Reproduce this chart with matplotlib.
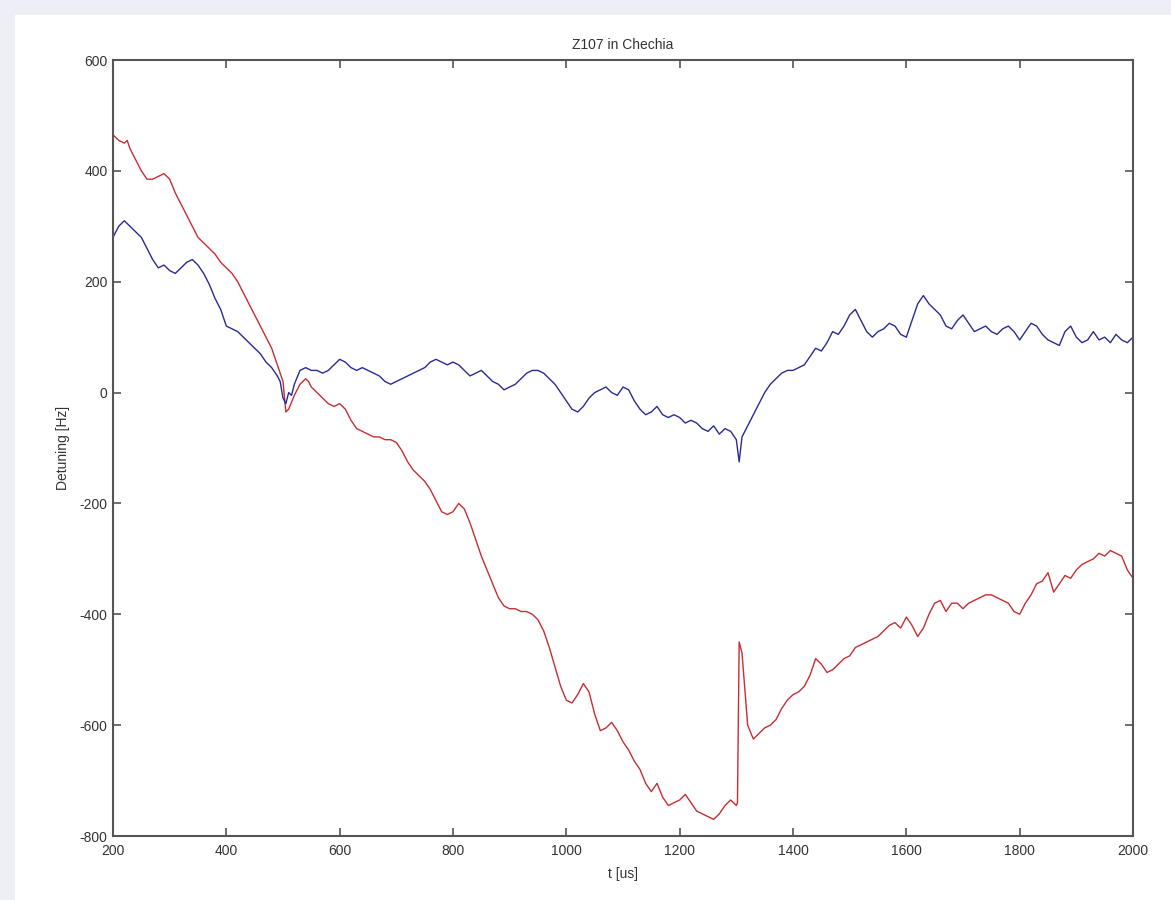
import matplotlib
matplotlib.use("Agg")
import matplotlib.pyplot as plt
from matplotlib.patches import Rectangle

# ---- data ----
blue_t = [200, 210, 220, 230, 240, 250, 260, 270, 280, 290, 300, 310, 320, 330, 340, 350, 360, 370, 380, 390,
          400, 410, 420, 430, 440, 450, 460, 470, 480, 490, 495, 500, 505, 510, 515, 520, 530, 540, 550, 560,
          570, 580, 590, 600, 610, 620, 630, 640, 650, 660, 670, 680, 690, 700, 710, 720, 730, 740, 750, 760,
          770, 780, 790, 800, 810, 820, 830, 840, 850, 860, 870, 880, 890, 900, 910, 920, 930, 940, 950, 960,
          970, 980, 990, 1000, 1010, 1020, 1030, 1040, 1050, 1060, 1070, 1080, 1090, 1100, 1110, 1120, 1130,
          1140, 1150, 1160, 1170, 1180, 1190, 1200, 1210, 1220, 1230, 1240, 1250, 1260, 1270, 1280, 1290, 1300,
          1305, 1310, 1320, 1330, 1340, 1350, 1360, 1370, 1380, 1390, 1400, 1410, 1420, 1430, 1440, 1450, 1460,
          1470, 1480, 1490, 1500, 1510, 1520, 1530, 1540, 1550, 1560, 1570, 1580, 1590, 1600, 1610, 1620, 1630,
          1640, 1650, 1660, 1670, 1680, 1690, 1700, 1710, 1720, 1730, 1740, 1750, 1760, 1770, 1780, 1790, 1800,
          1810, 1820, 1830, 1840, 1850, 1860, 1870, 1880, 1890, 1900, 1910, 1920, 1930, 1940, 1950, 1960, 1970,
          1980, 1990, 2000]
blue_v = [280, 300, 310, 300, 290, 280, 260, 240, 225, 230, 220, 215, 225, 235, 240, 230, 215, 195, 170, 150,
          120, 115, 110, 100, 90, 80, 70, 55, 45, 30, 20, -10, -20, 0, -5, 15, 40, 45, 40, 40,
          35, 40, 50, 60, 55, 45, 40, 45, 40, 35, 30, 20, 15, 20, 25, 30, 35, 40, 45, 55,
          60, 55, 50, 55, 50, 40, 30, 35, 40, 30, 20, 15, 5, 10, 15, 25, 35, 40, 40, 35,
          25, 15, 0, -15, -30, -35, -25, -10, 0, 5, 10, 0, -5, 10, 5, -15, -30,
          -40, -35, -25, -40, -45, -40, -45, -55, -50, -55, -65, -70, -60, -75, -65, -70, -85,
          -125, -80, -60, -40, -20, 0, 15, 25, 35, 40, 40, 45, 50, 65, 80, 75, 90,
          110, 105, 120, 140, 150, 130, 110, 100, 110, 115, 125, 120, 105, 100, 130, 160, 175,
          160, 150, 140, 120, 115, 130, 140, 125, 110, 115, 120, 110, 105, 115, 120, 110, 95,
          110, 125, 120, 105, 95, 90, 85, 110, 120, 100, 90, 95, 110, 95, 100, 90, 105,
          95, 90, 100]

red_t = [200, 210, 220, 225, 230, 240, 250, 260, 270, 280, 290, 300, 310, 320, 330, 340, 350, 360, 370, 380,
         390, 400, 410, 420, 430, 440, 450, 460, 470, 480, 490, 500, 505, 510, 520, 530, 540, 545, 550, 560,
         570, 580, 590, 600, 610, 620, 630, 640, 650, 660, 670, 680, 690, 700, 710, 720, 730, 740, 750, 760,
         770, 780, 790, 800, 810, 820, 830, 840, 850, 860, 870, 880, 890, 900, 910, 920, 930, 940, 950, 960,
         970, 980, 990, 1000, 1010, 1020, 1030, 1040, 1050, 1060, 1070, 1080, 1090, 1100, 1110, 1120, 1130,
         1140, 1150, 1160, 1170, 1180, 1190, 1200, 1210, 1220, 1230, 1240, 1250, 1260, 1270, 1280, 1290, 1300,
         1302, 1305, 1310, 1320, 1330, 1340, 1350, 1360, 1370, 1380, 1390, 1400, 1410, 1420, 1430, 1440, 1450,
         1460, 1470, 1480, 1490, 1500, 1510, 1520, 1530, 1540, 1550, 1560, 1570, 1580, 1590, 1600, 1610, 1620,
         1630, 1640, 1650, 1660, 1670, 1680, 1690, 1700, 1710, 1720, 1730, 1740, 1750, 1760, 1770, 1780, 1790,
         1800, 1810, 1820, 1830, 1840, 1850, 1860, 1870, 1880, 1890, 1900, 1910, 1920, 1930, 1940, 1950, 1960,
         1970, 1980, 1990, 2000]
red_v = [465, 455, 450, 455, 440, 420, 400, 385, 385, 390, 395, 385, 360, 340, 320, 300, 280, 270, 260, 250,
         235, 225, 215, 200, 180, 160, 140, 120, 100, 80, 50, 20, -35, -30, -5, 15, 25, 20, 10, 0,
         -10, -20, -25, -20, -30, -50, -65, -70, -75, -80, -80, -85, -85, -90, -105, -125, -140, -150, -160, -175,
         -195, -215, -220, -215, -200, -210, -235, -265, -295, -320, -345, -370, -385, -390, -390, -395, -395, -400, -410, -430,
         -460, -495, -530, -555, -560, -545, -525, -540, -580, -610, -605, -595, -610, -630, -645, -665, -680,
         -705, -720, -705, -730, -745, -740, -735, -725, -740, -755, -760, -765, -770, -760, -745, -735, -745,
         -740, -450, -470, -600, -625, -615, -605, -600, -590, -570, -555, -545, -540, -530, -510, -480, -490,
         -505, -500, -490, -480, -475, -460, -455, -450, -445, -440, -430, -420, -415, -425, -405, -420, -440,
         -425, -400, -380, -375, -395, -380, -380, -390, -380, -375, -370, -365, -365, -370, -375, -380, -395,
         -400, -380, -365, -345, -340, -325, -360, -345, -330, -335, -320, -310, -305, -300, -290, -295, -285,
         -290, -295, -320, -335]

x_ticks = [200, 400, 600, 800, 1000, 1200, 1400, 1600, 1800, 2000]
y_ticks = [-800, -600, -400, -200, 0, 200, 400, 600]

plt.rcParams['font.family'] = ['Liberation Sans', 'DejaVu Sans']
plt.rcParams['axes.unicode_minus'] = False

W, H = 1171, 900
fig = plt.figure(figsize=(W / 100, H / 100), dpi=100, facecolor='#eeeef6')
# white page area
fig.patches.append(Rectangle((15 / W, 0), 1 - 15 / W, 1 - 15 / H, transform=fig.transFigure,
                             facecolor='white', edgecolor='none', zorder=-10))

ax = fig.add_axes([113 / W, 1 - 836 / H, (1133 - 113) / W, (836 - 60) / H])
ax.set_zorder(5)
ax.set_facecolor('white')

ax.plot(red_t, red_v, color='#c62e34', lw=1.0)
ax.plot(blue_t, blue_v, color='#2a2a96', lw=1.0)

ax.set_xlim(200, 2000)
ax.set_ylim(-800, 600)
ax.set_xticks(x_ticks)
ax.set_yticks(y_ticks)
ax.tick_params(direction='in', length=6, width=1.2, top=True, right=True,
               labelsize=10, colors='#555555', labelcolor='#333333')
ax.tick_params(axis='x', pad=6)
ax.tick_params(axis='y', pad=4)
for s in ax.spines.values():
    s.set_color('#555555')
    s.set_linewidth(1.5)

ax.set_title('Z107 in Chechia', fontsize=10, color='#333333', pad=8)
ax.set_xlabel('t [us]', fontsize=10, color='#333333', labelpad=6)
ax.set_ylabel('Detuning [Hz]', fontsize=10, color='#333333', labelpad=7)

fig.savefig('out.png', dpi=100, facecolor=fig.get_facecolor())
